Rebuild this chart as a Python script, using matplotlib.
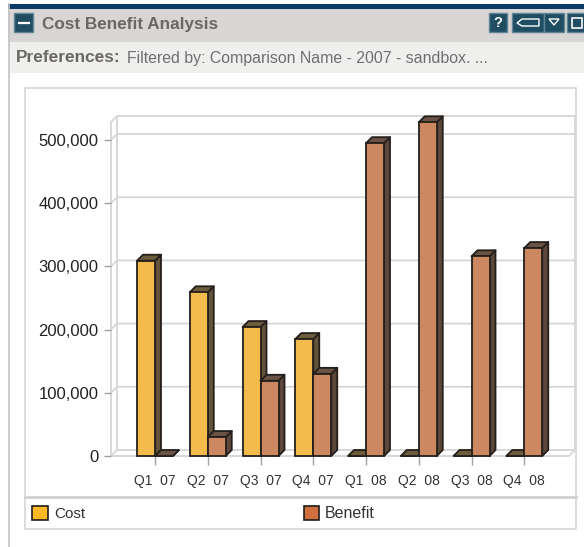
import matplotlib
matplotlib.use('Agg')
import matplotlib.pyplot as plt
from matplotlib.patches import Rectangle, Polygon

plt.rcParams['font.family'] = ['Liberation Sans', 'DejaVu Sans']

quarters = ['Q1  07', 'Q2  07', 'Q3  07', 'Q4  07', 'Q1  08', 'Q2  08', 'Q3  08', 'Q4  08']
cost = [309000, 259000, 204000, 185000, 0, 0, 0, 0]
benefit = [0, 30000, 119000, 130000, 495000, 528000, 316000, 329000]
yticks = [0, 100000, 200000, 300000, 400000, 500000]

W, H = 584, 547
GRID = '#d6d6d6'
EDGE = '#241f1b'
BTN = '#1f4e63'

fig = plt.figure(figsize=(W / 100, H / 100), dpi=100, facecolor='white')

# page furniture, in pixel coords
bg = fig.add_axes([0, 0, 1, 1], zorder=0)
bg.set_xlim(0, W)
bg.set_ylim(H, 0)
bg.axis('off')


def box(x0, y0, x1, y1, fc='none', ec='none', lw=1.0):
    bg.add_patch(Rectangle((x0, y0), x1 - x0, y1 - y0, facecolor=fc, edgecolor=ec, linewidth=lw))


box(8, 9, W, 42, fc='#d7d6d4')
box(8, 42, W, 73, fc='#efefee')
box(8, 4, W, 9, fc='#0c3a66')
bg.plot([8.5, 8.5], [4, H], color='#c4c4c4', lw=1.2)
box(25, 88, 576, 529, ec='#d6d6d6', lw=1.2)
bg.plot([25, 576], [497, 497], color='#d0d0d0', lw=2)

# header buttons
box(14, 13, 33, 32, fc=BTN, ec='#5f8494')
bg.plot([18.5, 28.5], [22.5, 22.5], color='white', lw=1.6)
box(489, 13, 507, 32, fc=BTN, ec='#5f8494')
bg.text(498, 23, '?', color='white', fontsize=10.5, fontweight='bold', ha='center', va='center')
box(512, 13, 544, 32, fc=BTN, ec='#5f8494')
bg.add_patch(Polygon([(517, 23), (522, 19), (539, 19), (539, 26), (522, 26)], facecolor='none', edgecolor='white', linewidth=1))
box(544, 13, 564, 32, fc=BTN, ec='#5f8494')
bg.add_patch(Polygon([(549, 19), (559, 19), (554, 25)], facecolor=BTN, edgecolor='white', linewidth=1))
box(567, 13, 586, 32, fc=BTN, ec='#5f8494')
box(572, 18, 582, 28, ec='white', lw=1.2)

bg.text(42, 25, 'Cost Benefit Analysis', color='#6b6762', fontsize=12.3, fontweight='bold', va='center')
bg.text(16, 58, 'Preferences:', color='#6b6762', fontsize=12.4, fontweight='bold', va='center')
bg.text(127, 58, 'Filtered by: Comparison Name - 2007 - sandbox. ...', color='#6f6f6f', fontsize=11.4, va='center')

# legend
box(32, 506, 48, 520, fc='#fdb827', ec='#1c1c1c', lw=1.2)
bg.text(54, 514, 'Cost', color='#333333', fontsize=11, va='center')
box(304, 506, 319, 520, fc='#d0703e', ec='#1c1c1c', lw=1.2)
bg.text(325, 514, 'Benefit', color='#333333', fontsize=11.5, va='center')

# chart axes: front plane runs from x=111 to 569, y=456 up to 122
ax = fig.add_axes([111 / W, (H - 456) / H, 458 / W, 334 / H], zorder=1)
ax.patch.set_alpha(0)
step = 52.75
y_scale = 500000 / 316
ax.set_xlim(-44 / step, (569 - 155) / step)
ax.set_ylim(0, 334 * y_scale)
for s in ax.spines.values():
    s.set_visible(False)

dx = 6 / step
dy = 6 * y_scale
x_lo, x_hi = ax.get_xlim()
y_top = ax.get_ylim()[1]

# back wall and floor
wall = dict(color=GRID, lw=1.3, clip_on=False, zorder=1)
for v in yticks:
    ax.plot([x_lo, x_lo + dx, x_hi + dx], [v, v + dy, v + dy], **wall)
ax.plot([x_lo, x_hi, x_hi + dx], [0, 0, dy], **wall)
ax.plot([x_lo, x_lo], [0, y_top], **wall)
ax.plot([x_lo + dx, x_lo + dx], [dy, y_top + dy], **wall)
ax.plot([x_hi + dx, x_hi + dx], [dy, y_top + dy], **wall)
ax.plot([x_lo, x_lo + dx, x_hi + dx], [y_top, y_top + dy, y_top + dy], **wall)

bar_w = 18 / step
xs = list(range(len(quarters)))


def draw_extrusion(x0, v, side_c, top_c, z):
    x1 = x0 + bar_w
    kw = dict(edgecolor=EDGE, linewidth=1.3, clip_on=False, zorder=z, joinstyle='round')
    ax.add_patch(Polygon([(x1, 0), (x1 + dx, dy), (x1 + dx, v + dy), (x1, v)], facecolor=side_c, **kw))
    ax.add_patch(Polygon([(x0, v), (x0 + dx, v + dy), (x1 + dx, v + dy), (x1, v)], facecolor=top_c, **kw))


for i in xs:
    draw_extrusion(i - bar_w, cost[i], '#63533a', '#6d5c3c', 3 + i * 2)
    draw_extrusion(i, benefit[i], '#5c483b', '#6a5345', 4 + i * 2)

for i in xs:
    ax.bar(i - bar_w, cost[i], bar_w, align='edge', color='#f2bb4c', edgecolor=EDGE,
           linewidth=1.3, clip_on=False, zorder=3 + i * 2 if cost[i] else 2)
    ax.bar(i, benefit[i], bar_w, align='edge', color='#cc8860', edgecolor=EDGE,
           linewidth=1.3, clip_on=False, zorder=4 + i * 2 if benefit[i] else 2)

ax.set_xticks(xs, quarters)
ax.set_yticks(yticks, ['{:,}'.format(v) for v in yticks])
ax.tick_params(axis='x', length=6.5, width=1, color='#a0a0a0', labelsize=10, labelcolor='#333333', pad=6.5)
ax.tick_params(axis='y', length=5, width=1, color='#a0a0a0', labelsize=12, labelcolor='#222222', pad=4)

plt.savefig('out.png', dpi=100)
plt.close()
